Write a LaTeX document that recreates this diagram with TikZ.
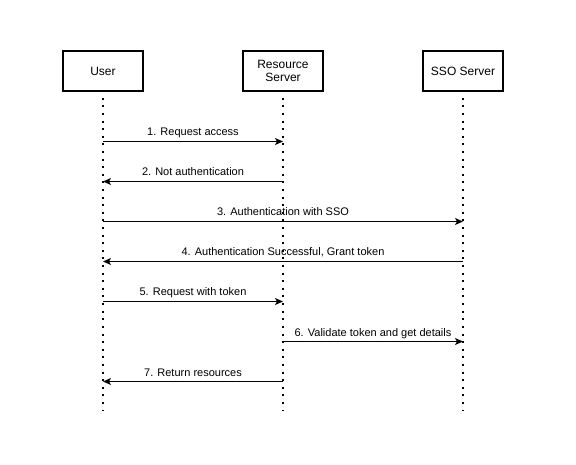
\documentclass[tikz,border=0pt]{standalone}
\usepackage{fontspec}
\setmainfont{Liberation Sans}
\usetikzlibrary{arrows.meta}
\begin{document}
\begin{tikzpicture}[x=1pt,y=-1pt,
  actor/.style={draw,line width=1.8pt,minimum width=80pt,minimum height=40pt,inner sep=0pt,align=center,font=\fontsize{12}{14}\selectfont},
  life/.style={line width=2pt,dash pattern=on 2pt off 5.6pt},
  msg/.style={line width=0.9pt,-{Stealth[length=8pt,width=7pt,inset=2pt]}},
  lbl/.style={font=\fontsize{11}{13}\selectfont,anchor=base,inner sep=0pt,yshift=5.5pt,midway}]
\useasboundingbox (0,0) rectangle (576,465);
\node[actor] (U) at (103,71) {User};
\node[actor] (R) at (283,71) {Resource\\[-1pt]Server};
\node[actor] (S) at (463,71) {SSO Server};
\coordinate (Ue) at (103,411);
\coordinate (Re) at (283,411);
\coordinate (Se) at (463,411);
\draw[life] ([yshift=-6pt]U.south) -- (Ue);
\draw[life] ([yshift=-6pt]R.south) -- (Re);
\draw[life] ([yshift=-6pt]S.south) -- (Se);
\foreach \n/\y in {1/141.5,2/181.5,3/221.5,4/261.5,5/301.5,6/341.5,7/381.5}{
  \coordinate (u\n) at (103,\y);
  \coordinate (r\n) at (283,\y);
  \coordinate (s\n) at (463,\y);
}
\draw[msg] (u1) -- node[lbl] {1. Request access} (r1);
\draw[msg] (r2) -- node[lbl] {2. Not authentication} (u2);
\draw[msg] (u3) -- node[lbl] {3. Authentication with SSO} (s3);
\draw[msg] (s4) -- node[lbl] {4. Authentication Successful, Grant token} (u4);
\draw[msg] (u5) -- node[lbl] {5. Request with token} (r5);
\draw[msg] (r6) -- node[lbl] {6. Validate token and get details} (s6);
\draw[msg] (r7) -- node[lbl] {7. Return resources} (u7);
\end{tikzpicture}
\end{document}
